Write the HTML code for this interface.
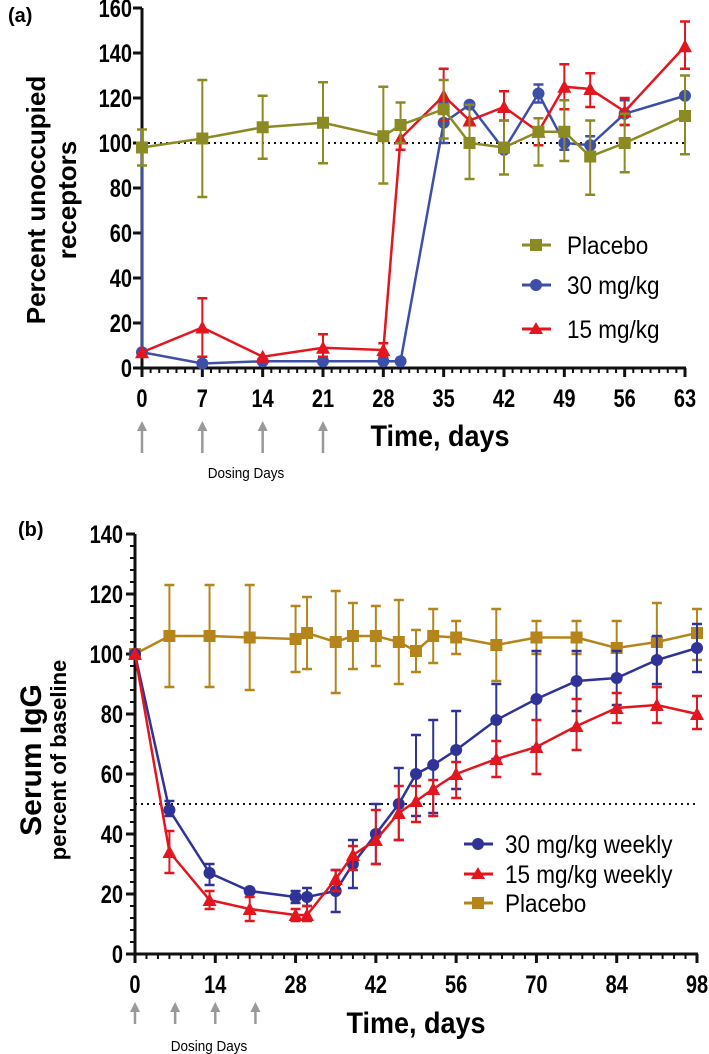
<!DOCTYPE html>
<html><head><meta charset="utf-8">
<style>
html,body{margin:0;padding:0;background:#fff;}
svg{display:block;font-family:"Liberation Sans",Arial,sans-serif;}
.tk{font-weight:bold;font-size:25px;}
</style></head>
<body>
<svg id="fig" width="709" height="1054" viewBox="0 0 709 1054"></svg>
<script>
// ---- Panel (a) data ----
const aDays = [0,7,14,21,28,30,35,38,42,46,49,52,56,63];
const aPlacebo = [98,102,107,109,103,108,115,100,98,105,105,94,100,112];
const aPlaceboLo = [90,76,93,91,82,100,102,84,86,90,92,77,87,95];
const aPlaceboHi = [106,128,121,127,125,118,128,117,110,111,119,110,113,130];
const a30Days = [0,0,7,14,21,28,30,35,38,42,46,49,52,56,63];
const a30 = [98,7,2,3,3,3,3,109,117,97,122,100,99,113,121];
const a30Lo = [98,7,2,3,3,3,3,100,117,97,118,97,96,108,121];
const a30Hi = [98,7,2,3,3,3,3,118,117,97,126,103,103,119,121];
const a15Days = [0,7,14,21,28,30,35,38,42,46,49,52,56,63];
const a15 = [7,18,5,9,8,102,121,110,116,105,125,124,114,143];
const a15Lo = [7,5,5,5,5,97,110,110,110,99,115,116,108,133];
const a15Hi = [7,31,5,15,11,102,133,110,123,111,135,131,120,154];
const aXTicks = [0,7,14,21,28,35,42,49,56,63];
const aYTicks = [0,20,40,60,80,100,120,140,160];
// ---- Panel (b) data ----
const bDays = [0,6,13,20,28,30,35,38,42,46,49,52,56,63,70,77,84,91,98];
const bPlacebo = [100,106,106,105.5,105,107,104,106,106,104,101,106,105.5,103,105.5,105.5,102,104,107];
const bPlaceboLo = [100,89,89,88,94,95,87,95,96,90,94,97,100,91,100,100,93,89,98];
const bPlaceboHi = [100,123,123,123,116,119,121,117,116,118,108,115,111,115,111,111,111,117,115];
const b30 = [100,48,27,21,19,19,21,30,40,50,60,63,68,78,85,91,92,98,102];
const b30Lo = [100,46,23,21,17,16,14,22,30,38,46,47,55,65,69,81,83,90,94];
const b30Hi = [100,51,30,21,21,22,28,38,50,62,73,78,81,90,101,101,101,106,110];
const b15 = [100,34,18,15,13,13,25,33,38,47,51,55,60,65,69,76,82,83,80];
const b15Lo = [100,27,15,11,11,11,21,28,30,38,44,46,52,59,60,68,77,77,75];
const b15Hi = [100,41,21,19,15,16,28,36,48,56,56,58,64,71,78,85,87,89,86];
const bXTicks = [0,14,28,42,56,70,84,98];
const bYTicks = [0,20,40,60,80,100,120,140];
const dosing = [0,7,14,21];

const NS="http://www.w3.org/2000/svg";
const svg=document.getElementById('fig');
function mk(tag,attrs,parent,text){const e=document.createElementNS(NS,tag);for(const k in attrs)e.setAttribute(k,attrs[k]);if(text!==undefined)e.textContent=text;(parent||svg).appendChild(e);return e;}

function marker(g,shape,x,y,col,s){
  if(shape==='sq') return mk('rect',{x:x-s,y:y-s,width:2*s,height:2*s,fill:col},g);
  if(shape==='ci') return mk('circle',{cx:x,cy:y,r:s,fill:col},g);
  return mk('polygon',{points:`${x},${y-s-1} ${x-s-1},${y+s} ${x+s+1},${y+s}`,fill:col},g);
}

function series(X,Y,days,vals,lo,hi,col,shape,name){
  const g=mk('g',{});
  
  
  let pts=days.map((d,i)=>X(d)+','+Y(vals[i])).join(' ');
  mk('polyline',{points:pts,fill:'none',stroke:col,'stroke-width':2.5},g);
  days.forEach((d,i)=>{
    const x=X(d);
    if(hi[i]>vals[i]){mk('line',{x1:x,x2:x,y1:Y(vals[i]),y2:Y(hi[i]),stroke:col,'stroke-width':2},g);mk('line',{x1:x-5,x2:x+5,y1:Y(hi[i]),y2:Y(hi[i]),stroke:col,'stroke-width':2.5},g);}
    if(lo[i]<vals[i]){mk('line',{x1:x,x2:x,y1:Y(vals[i]),y2:Y(lo[i]),stroke:col,'stroke-width':2},g);mk('line',{x1:x-5,x2:x+5,y1:Y(lo[i]),y2:Y(lo[i]),stroke:col,'stroke-width':2.5},g);}
    const m=marker(g,shape,x,Y(vals[i]),col,6);
    
    
  });
}

function axes(X,Y,xmax,ymax,xTicks,yTicks,xMinor,yMinor,labY,labXr,pref){
  const g=mk('g',{});
  
  
  mk('line',{x1:X(0),x2:X(0),y1:Y(0)+1.5,y2:Y(ymax),stroke:'#111','stroke-width':3},g);
  mk('line',{x1:X(0)-1.5,x2:X(xmax)+1,y1:Y(0),y2:Y(0),stroke:'#111','stroke-width':3},g);
  for(let d=0;d<=xmax;d+=xMinor){mk('line',{x1:X(d),x2:X(d),y1:Y(0),y2:Y(0)+5,stroke:'#111','stroke-width':2},g);}
  xTicks.forEach(t=>{mk('line',{x1:X(t),x2:X(t),y1:Y(0),y2:Y(0)+9,stroke:'#111','stroke-width':3},g);
    const tx=mk('text',{transform:`translate(${X(t)},${labY}) scale(0.8,1)`,'text-anchor':'middle',class:'tk'},g,String(t));
    });
  if(yMinor){for(let v=0;v<=ymax;v+=yMinor){mk('line',{x1:X(0),x2:X(0)-5,y1:Y(v),y2:Y(v),stroke:'#111','stroke-width':2},g);}}
  yTicks.forEach(t=>{mk('line',{x1:X(0),x2:X(0)-9,y1:Y(t),y2:Y(t),stroke:'#111','stroke-width':3},g);
    const ty=mk('text',{transform:`translate(${labXr},${Y(t)+9}) scale(0.8,1)`,'text-anchor':'end',class:'tk'},g,String(t));
    });
}

// ===== Panel A =====
const aX=d=>142+d*(685-142)/63, aY=v=>368-v*(360/160);
axes(aX,aY,63,160,aXTicks,aYTicks,1,0,407,132,'panel-a');
mk('line',{x1:aX(0),x2:aX(63),y1:aY(100),y2:aY(100),stroke:'#111','stroke-width':2,'stroke-dasharray':'2,4'});
series(aX,aY,a30Days,a30,a30Lo,a30Hi,'#3d4fa8','ci','a-series-30mg');
series(aX,aY,a15Days,a15,a15Lo,a15Hi,'#e3161f','tr','a-series-15mg');
series(aX,aY,aDays,aPlacebo,aPlaceboLo,aPlaceboHi,'#8c8a22','sq','a-series-placebo');

// ===== Panel B =====
const bX=d=>135+d*(697-135)/98, bY=v=>954-v*(420/140);
axes(bX,bY,98,140,bXTicks,bYTicks,2,4,993,123,'panel-b');
mk('line',{x1:bX(0),x2:bX(98),y1:bY(50),y2:bY(50),stroke:'#111','stroke-width':2,'stroke-dasharray':'2,4'});
series(bX,bY,bDays,bPlacebo,bPlaceboLo,bPlaceboHi,'#b5851c','sq','b-series-placebo');
series(bX,bY,bDays,b30,b30Lo,b30Hi,'#2f3296','ci','b-series-30mg');
series(bX,bY,bDays,b15,b15Lo,b15Hi,'#e3161f','tr','b-series-15mg');

// dosing arrows
function arrows(X,y1,y2,pref){dosing.forEach(d=>{const g=mk('g',{});
  
  
  mk('line',{x1:X(d),x2:X(d),y1:y2,y2:y1+8,stroke:'#999','stroke-width':2.5},g);
  mk('polygon',{points:`${X(d)},${y1} ${X(d)-5},${y1+10} ${X(d)+5},${y1+10}`,fill:'#999'},g);});}
arrows(aX,421,453,'a');
arrows(bX,1002,1024,'b');
</script>
<svg width="709" height="1054" style="position:absolute;left:0;top:0" font-family="Liberation Sans, Arial, sans-serif">
  <text x="8" y="22" font-size="20" font-weight="bold">(a)</text>
  <text x="18" y="536" font-size="20" font-weight="bold">(b)</text>
  <text transform="translate(45,200) rotate(-90)" text-anchor="middle" font-size="26" font-weight="bold">Percent unoccupied</text>
  <text transform="translate(76,200) rotate(-90)" text-anchor="middle" font-size="26" font-weight="bold">receptors</text>
  <text transform="translate(440,446) scale(0.9,1)" text-anchor="middle" font-size="30" font-weight="bold">Time, days</text>
  <text transform="translate(246,478) scale(0.9,1)" text-anchor="middle" font-size="15">Dosing Days</text>
  <text transform="translate(41,760) rotate(-90)" text-anchor="middle" font-size="30" font-weight="bold">Serum IgG</text>
  <text transform="translate(66,760) rotate(-90)" text-anchor="middle" font-size="22" font-weight="bold">percent of baseline</text>
  <text transform="translate(416,1033) scale(0.9,1)" text-anchor="middle" font-size="30" font-weight="bold">Time, days</text>
  <text transform="translate(209,1051) scale(0.9,1)" text-anchor="middle" font-size="15">Dosing Days</text>
  <g>
    <line x1="522" x2="551" y1="245" y2="245" stroke="#8c8a22" stroke-width="3"/><rect x="530" y="239" width="12" height="12" fill="#8c8a22"/>
    <text transform="translate(567,254) scale(0.9,1)" font-size="25">Placebo</text>
    <line x1="522" x2="551" y1="285" y2="285" stroke="#3d4fa8" stroke-width="3"/><circle cx="536" cy="285" r="6" fill="#3d4fa8"/>
    <text transform="translate(567,294) scale(0.9,1)" font-size="25">30 mg/kg</text>
    <line x1="522" x2="551" y1="329" y2="329" stroke="#e3161f" stroke-width="3"/><polygon points="536,322 529,334 543,334" fill="#e3161f"/>
    <text transform="translate(567,338) scale(0.9,1)" font-size="25">15 mg/kg</text>
  </g>
  <g>
    <line x1="464" x2="493" y1="844" y2="844" stroke="#2f3296" stroke-width="3"/><circle cx="478" cy="844" r="6" fill="#2f3296"/>
    <text transform="translate(505,853) scale(0.9,1)" font-size="25">30 mg/kg weekly</text>
    <line x1="464" x2="493" y1="874" y2="874" stroke="#e3161f" stroke-width="3"/><polygon points="478,867 471,879 485,879" fill="#e3161f"/>
    <text transform="translate(505,883) scale(0.9,1)" font-size="25">15 mg/kg weekly</text>
    <line x1="464" x2="493" y1="903" y2="903" stroke="#b5851c" stroke-width="3"/><rect x="472" y="897" width="12" height="12" fill="#b5851c"/>
    <text transform="translate(505,912) scale(0.9,1)" font-size="25">Placebo</text>
  </g>
</svg>
</body></html>
